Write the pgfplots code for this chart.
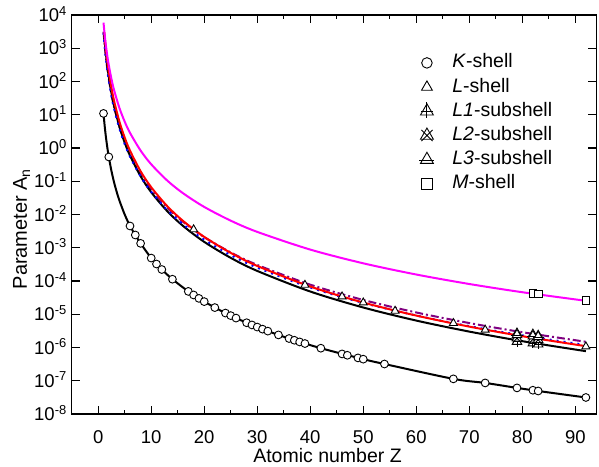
\documentclass[border=0pt]{standalone}
\usepackage{fontspec}
\setmainfont{Liberation Sans}
\usepackage{pgfplots}
\pgfplotsset{compat=1.18}

\definecolor{mag}{RGB}{255,0,255}
\definecolor{purp}{RGB}{128,0,128}

% open triangle, filled white, with extra strokes
\newcommand\tripath{%
  \pgfpathmoveto{\pgfqpointpolar{90}{1.2\pgfplotmarksize}}%
  \pgfpathlineto{\pgfqpointpolar{-30}{1.2\pgfplotmarksize}}%
  \pgfpathlineto{\pgfqpointpolar{210}{1.2\pgfplotmarksize}}%
  \pgfpathclose\pgfusepathqfillstroke}
\pgfdeclareplotmark{triplus}{\tripath
  \pgfpathmoveto{\pgfqpoint{0pt}{1.45\pgfplotmarksize}}%
  \pgfpathlineto{\pgfqpoint{0pt}{-1.1\pgfplotmarksize}}%
  \pgfpathmoveto{\pgfqpoint{-0.95\pgfplotmarksize}{0pt}}%
  \pgfpathlineto{\pgfqpoint{0.95\pgfplotmarksize}{0pt}}%
  \pgfusepathqstroke}
\pgfdeclareplotmark{trix}{\tripath
  \pgfpathmoveto{\pgfqpoint{-0.9\pgfplotmarksize}{-0.9\pgfplotmarksize}}%
  \pgfpathlineto{\pgfqpoint{0.9\pgfplotmarksize}{0.9\pgfplotmarksize}}%
  \pgfpathmoveto{\pgfqpoint{-0.9\pgfplotmarksize}{0.9\pgfplotmarksize}}%
  \pgfpathlineto{\pgfqpoint{0.9\pgfplotmarksize}{-0.9\pgfplotmarksize}}%
  \pgfusepathqstroke}
\pgfdeclareplotmark{triminus}{\tripath
  \pgfpathmoveto{\pgfqpoint{-1.2\pgfplotmarksize}{-0.1\pgfplotmarksize}}%
  \pgfpathlineto{\pgfqpoint{1.2\pgfplotmarksize}{-0.1\pgfplotmarksize}}%
  \pgfusepathqstroke}

\begin{document}
\fontsize{18.5}{22}\selectfont
\begin{tikzpicture}
\begin{axis}[
  at={(0,0)}, anchor=south west,
  scale only axis, width=524.8pt, height=399pt,
  xmin=-5, xmax=94,
  ymode=log, log basis y=10, ymin=1e-8, ymax=1e4,
  xtick={0,10,...,90}, minor x tick num=1,
  ytickten={-8,...,4},
  tick align=inside,
  major tick length=8pt, minor tick length=4pt,
  every tick/.style={black, line width=1.2pt},
  axis line style={line width=1.6pt},
  xticklabel style={anchor=north, inner sep=0pt, yshift=-16pt,
    /pgf/number format/assume math mode=true},
  yticklabel={\pgfmathparse{int(round(\tick))}10\textsuperscript{\pgfmathresult}},
  yticklabel style={anchor=base east, inner sep=0pt, xshift=-4.7pt, yshift=-6.5pt},
  legend cell align=left,
  legend style={draw=none, fill=none, inner sep=0pt, outer sep=0pt,
    at={(axis description cs:0.6627,0.905)}, anchor=north west,
    font=\fontsize{19.5}{22}\selectfont,
    nodes={inner sep=1pt, text height=14pt, text depth=4pt},
    row sep=4.2pt,
    /tikz/every odd column/.append style={column sep=17pt}},
  legend image post style={every mark/.append style={scale=1.35}},
]
% fitted curves
\addplot[purp, line width=2pt, dash pattern=on 8pt off 3pt on 2pt off 3pt, smooth, forget plot] coordinates {
(1,3162)(1.3,909.5)(1.5,460.9)(1.75,221.6)(2,117.5)(2.5,40.7)(3,17.13)(4,4.368)(5,1.513)(6,0.6366)(8,0.1623)(10,0.05623)(13,0.01617)(16,6.03e-3)(20,2.089e-3)(25,7.24e-4)(30,3.046e-4)(40,7.77e-5)(50,2.69e-5)(60,1.132e-5)(70,5.44e-6)(80,2.886e-6)(92,1.486e-6)};
\addplot[black, line width=2pt, smooth, forget plot] coordinates {
(1.07,3050)(1.3,1161)(1.5,570.9)(1.75,265.8)(2,137.1)(2.5,45.3)(3,18.34)(4,4.404)(5,1.456)(6,0.5895)(8,0.1415)(10,0.04677)(13,0.01273)(16,4.546e-3)(20,1.503e-3)(25,4.97e-4)(30,2.011e-4)(40,4.83e-5)(50,1.596e-5)(60,6.46e-6)(70,3.01e-6)(80,1.551e-6)(92,7.76e-7)};
\addplot[blue, line width=2pt, dash pattern=on 2pt off 5pt, smooth, forget plot] coordinates {
(1,2897)(1.3,826.9)(1.5,417.3)(1.75,199.7)(2,105.5)(2.5,36.3)(3,15.19)(4,3.838)(5,1.321)(6,0.5526)(8,0.1397)(10,0.04808)(13,0.01372)(16,5.085e-3)(20,1.750e-3)(25,6.02e-4)(30,2.519e-4)(40,6.37e-5)(50,2.19e-5)(60,9.17e-6)(70,4.39e-6)(80,2.32e-6)(92,1.189e-6)};
\addplot[red, line width=2pt, smooth, forget plot] coordinates {
(1.15,3013)(1.3,1640)(1.5,806.4)(1.75,375.5)(2,193.6)(2.5,64.0)(3,25.9)(4,6.22)(5,2.056)(6,0.833)(8,0.200)(10,0.0661)(13,0.01798)(16,6.42e-3)(20,2.12e-3)(25,7.02e-4)(30,2.84e-4)(40,6.82e-5)(50,2.25e-5)(60,9.13e-6)(70,4.25e-6)(80,2.19e-6)(92,1.096e-6)};
\addplot[mag, line width=2pt, smooth, forget plot] coordinates {
(1,5888)(1.3,1925)(1.5,1047)(1.75,542.8)(2,307.3)(2.5,118.8)(3,54.6)(4,16.04)(5,6.20)(6,2.852)(8,0.837)(10,0.3236)(13,0.1058)(16,0.04369)(20,0.01689)(25,6.53e-3)(30,3.003e-3)(40,8.81e-4)(50,3.407e-4)(60,1.567e-4)(70,8.13e-5)(80,4.60e-5)(92,2.536e-5)};
\addplot[black, line width=2pt, smooth, forget plot] coordinates {
(1,10.96)(1.25,4.15)(1.5,1.879)(1.75,0.961)(2,0.538)(2.5,0.2037)(3,0.0922)(3.5,0.0471)(4,0.02636)(5,9.99e-3)(6,4.52e-3)(7,2.42e-3)(8,1.354e-3)(10,4.90e-4)(12,2.216e-4)(14,1.133e-4)(17,4.87e-5)(20,2.40e-5)(24,1.087e-5)(28,5.56e-6)(32,3.11e-6)(36,1.863e-6)(42,9.53e-7)(50,4.46e-7)(54,3.19e-7)(67,1.139e-7)(73,8.60e-8)(79,6.10e-8)(83,4.92e-8)(92,3.14e-8)};
% data points
\addplot[only marks, mark=*, mark size=3.9pt, mark options={fill=white, draw=black, line width=0.9pt}] coordinates {
(1,10.96)(2,0.538)(6,4.52e-3)(7,2.42e-3)(8,1.354e-3)(10,4.90e-4)(11,3.24e-4)(12,2.216e-4)(14,1.133e-4)(17,4.87e-5)(18,3.80e-5)(19,3.00e-5)(20,2.40e-5)(22,1.587e-5)(24,1.087e-5)(25,9.10e-6)(26,7.67e-6)(28,5.56e-6)(29,4.77e-6)(30,4.12e-6)(31,3.57e-6)(32,3.11e-6)(34,2.39e-6)(36,1.863e-6)(37,1.653e-6)(38,1.472e-6)(39,1.315e-6)(42,9.53e-7)(46,6.41e-7)(47,5.84e-7)(49,4.87e-7)(50,4.46e-7)(54,3.19e-7)(67,1.139e-7)(73,8.60e-8)(79,6.10e-8)(82,5.19e-8)(83,4.92e-8)(92,3.14e-8)};
\addlegendentry{\textit{K}-shell}
\addplot[only marks, mark=triangle*, mark size=4.6pt, mark options={fill=white, draw=black, line width=0.9pt}] coordinates {
(18,3.55e-3)(39,7.6e-5)(46,3.4e-5)(50,2.24e-5)(56,1.26e-5)(67,5.4e-6)(73,3.4e-6)(79,2.8e-6)(82,2.6e-6)(83,2.4e-6)(92,1.07e-6)};
\addlegendentry{\textit{L}-shell}
\addplot[only marks, mark=triplus, mark size=4.6pt, mark options={fill=white, draw=black, line width=0.9pt}] coordinates {
(79,1.5e-6)(82,1.35e-6)(83,1.25e-6)};
\addlegendentry{\textit{L1}-subshell}
\addplot[only marks, mark=trix, mark size=4.6pt, mark options={fill=white, draw=black, line width=0.9pt}] coordinates {
(79,1.9e-6)(82,1.75e-6)(83,1.7e-6)};
\addlegendentry{\textit{L2}-subshell}
\addplot[only marks, mark=triminus, mark size=4.6pt, mark options={fill=white, draw=black, line width=0.9pt}] coordinates {
(79,2.4e-6)(82,2.2e-6)(83,2.1e-6)};
\addlegendentry{\textit{L3}-subshell}
\addplot[only marks, mark=square*, mark size=3.8pt, mark options={fill=white, draw=black, line width=0.9pt}] coordinates {
(82,4.27e-5)(83,4.07e-5)(92,2.57e-5)};
\addlegendentry{\textit{M}-shell}
\end{axis}
\node[anchor=base] at (255.8pt,-48pt) {\fontsize{19.5}{24}\selectfont Atomic number Z};
\node[rotate=90, anchor=base] at (-44.7pt,185pt) {\fontsize{20}{24}\selectfont Parameter A\textsubscript{n}};
\pgfresetboundingbox
\path[use as bounding box] (-71.7pt,-52pt) rectangle (527.3pt,414pt);
\end{tikzpicture}
\end{document}
